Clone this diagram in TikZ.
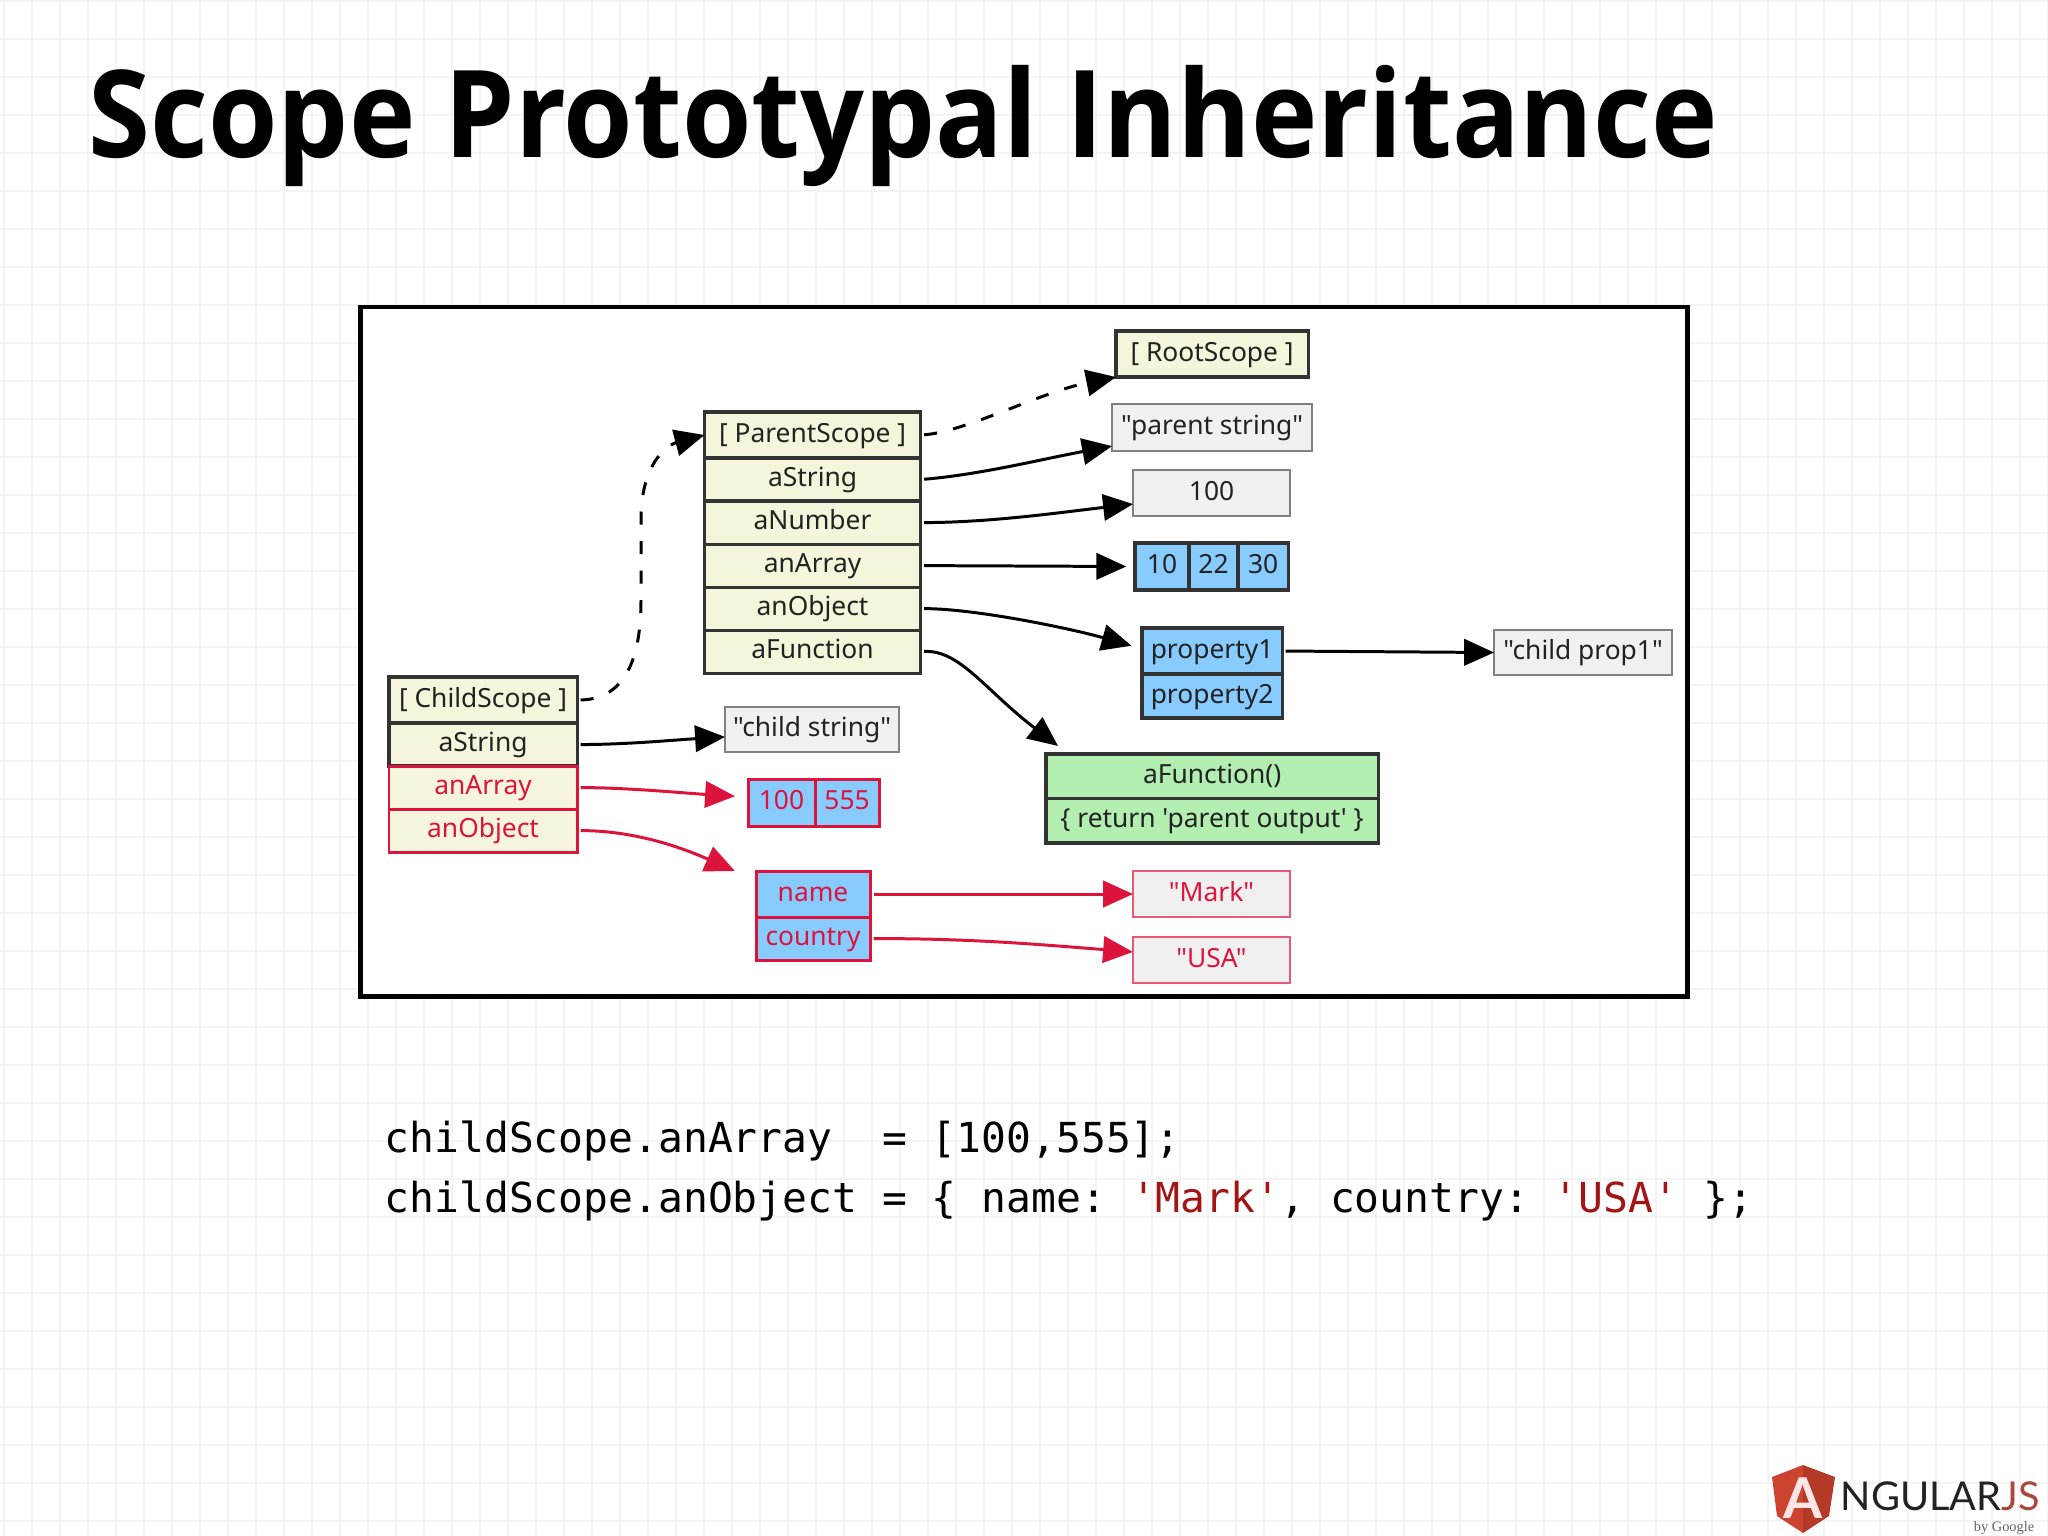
\documentclass[tikz,border=0pt]{standalone}
\usepackage{fontspec}
\usetikzlibrary{arrows.meta,positioning,shapes.geometric}
\newfontfamily\cellfont{Noto Sans}
\newfontfamily\titlefont[FakeStretch=.926]{Open Sans}
\newfontfamily\codefont{DejaVu Sans Mono}
\newfontfamily\logofont{Lato}
\newfontfamily\byfont{Liberation Serif}
\definecolor{ink}{HTML}{222222}
\definecolor{edge}{HTML}{333333}
\definecolor{crim}{HTML}{DC143C}
\definecolor{beige}{HTML}{F5F5DC}
\definecolor{valgrey}{HTML}{F0F0F0}
\definecolor{objblue}{HTML}{87CBFF}
\definecolor{fngreen}{HTML}{B2EEB0}
\definecolor{strred}{HTML}{A31515}
\definecolor{gridc}{HTML}{F4F4F4}
\definecolor{shieldl}{HTML}{CC4430}
\definecolor{shieldr}{HTML}{B23A26}
\definecolor{logojs}{HTML}{A84A3A}
\tikzset{
  cell/.style={draw=edge, line width=.9pt, outer sep=0pt, inner sep=0pt, text=ink,
               font=\cellfont\fontsize{7.5}{9}\selectfont, text height=7pt, text depth=3pt},
  scp/.style={cell, fill=beige, minimum width=#1, minimum height=.43cm},
  arr/.style={cell, fill=objblue, minimum width=#1, minimum height=.46cm},
  fnc/.style={cell, fill=fngreen, minimum width=3.32cm, minimum height=.445cm},
  val/.style={cell, draw=black!50, line width=.6pt, fill=valgrey, minimum width=#1, minimum height=.46cm},
  hot/.style={draw=crim, text=crim, line width=.85pt},
  ch/.style={-{Triangle[length=8.5pt,width=7.5pt]}, line width=.85pt, draw=black, shorten <=1pt},
  chhot/.style={ch, draw=crim},
  dsh/.style={ch, dash pattern=on 3.7pt off 4.7pt},
  code/.style={anchor=base west, inner sep=0pt, font=\codefont\fontsize{11.75}{14}\selectfont},
}
\begin{document}
\begin{tikzpicture}[x=.01cm, y=-.01cm]
  \useasboundingbox (0,0) rectangle (2048,1536);
  \fill[white] (0,0) rectangle (2048,1536);
  \foreach \gx in {4,32,...,2048} \draw[gridc, line width=.6pt] (\gx,0) -- (\gx,1536);
  \foreach \gy in {1,39,...,1536} \draw[gridc, line width=.6pt] (0,\gy) -- (2048,\gy);

  \node[anchor=base west, inner sep=0pt, font=\titlefont\bfseries\fontsize{34.5}{40}\selectfont] (title) at (88,157)
    {Scope Prototypal Inheritance};

  \node[draw=black, fill=white, line width=1.4pt, anchor=north west, outer sep=0pt,
        minimum width=13.26cm, minimum height=6.89cm] (frame) at (360.5,307) {};

  \node[scp=2.16cm, anchor=north west, minimum height=.46cm] (pscope) at (704.5,412) {[ ParentScope ]};
  \node[scp=2.16cm, below=0pt of pscope] (pstr) {aString};
  \node[scp=2.16cm, below=0pt of pstr] (pnum) {aNumber};
  \node[scp=2.16cm, below=0pt of pnum] (parr) {anArray};
  \node[scp=2.16cm, below=0pt of parr] (pobj) {anObject};
  \node[scp=2.16cm, below=0pt of pobj] (pfn) {aFunction};

  \node[scp=1.88cm, anchor=north west, minimum height=.46cm] (cscope) at (389,677) {[ ChildScope ]};
  \node[scp=1.88cm, below=0pt of cscope] (cstr) {aString};
  \node[scp=1.88cm, hot, below=0pt of cstr] (carr) {anArray};
  \node[scp=1.88cm, hot, below=0pt of carr] (cobj) {anObject};

  \node[scp=1.92cm, anchor=north west, minimum height=.46cm] (rscope) at (1116,331) {[ RootScope ]};
  \node[val=2cm, anchor=north west, minimum height=.47cm] (vpstr) at (1112,404) {"parent string"};
  \node[val=1.57cm, anchor=north west] (vnum) at (1133,470) {100};

  \node[arr=.54cm, anchor=north west, minimum height=.47cm] (a10) at (1135,543) {10};
  \node[arr=.49cm, minimum height=.47cm, right=0pt of a10] (a22) {22};
  \node[arr=.5cm, minimum height=.47cm, right=0pt of a22] (a30) {30};

  \node[arr=1.4cm, anchor=north west] (prop1) at (1142,628) {property1};
  \node[arr=1.4cm, minimum height=.44cm, below=0pt of prop1] (prop2) {property2};
  \node[val=1.78cm, anchor=north west, minimum height=.45cm] (vprop) at (1494,630) {"child prop1"};

  \node[fnc, anchor=north west] (fnhead) at (1046,754) {aFunction()};
  \node[fnc, below=0pt of fnhead] (fnbody) {\{ return 'parent output' \}};

  \node[val=1.74cm, anchor=north west, minimum height=.45cm] (vcstr) at (725,707) {"child string"};

  \node[arr=.67cm, hot, anchor=north west, minimum height=.47cm] (a100) at (748,779) {100};
  \node[arr=.64cm, hot, minimum height=.47cm, right=0pt of a100] (a555) {555};

  \node[arr=1.14cm, hot, anchor=north west] (oname) at (756,871) {name};
  \node[arr=1.14cm, hot, minimum height=.43cm, below=0pt of oname] (ocountry) {country};

  \node[val=1.57cm, draw=crim!70, text=crim, anchor=north west] (vmark) at (1133,871) {"Mark"};
  \node[val=1.57cm, draw=crim!70, text=crim, anchor=north west] (vusa) at (1133,937) {"USA"};

  \coordinate (dipa) at (641,600);
  \coordinate (dipb) at (641,520);
  \draw[dsh] (cscope.east) .. controls +(50,-1) and +(0,55) .. (dipa) -- (dipb)
    .. controls +(0,-65) and +(-30,8) .. (pscope.west);
  \draw[dsh] (pscope.east) .. controls +(44,-3) and +(-75,15) .. (rscope.south west);
  \draw[ch] (pstr.east) .. controls +(60,-5) and +(-70,13) .. ([yshift=1.4pt]vpstr.south west);
  \draw[ch] (pnum.east) .. controls +(70,0) and +(-70,8) .. ([yshift=3.4pt]vnum.south west);
  \draw[ch, shorten >=2.5pt] (parr.east) -- (a10.west);
  \draw[ch] (pobj.east) .. controls +(55,0) and +(-60,-17) .. ([xshift=-3pt,yshift=1.5pt]prop1.west);
  \draw[ch] (pfn.east) .. controls +(39,-2) and +(-73,-56) .. ([xshift=3.4pt,yshift=2.3pt]fnhead.north west);
  \draw[ch] (prop1.east) -- (vprop.west);
  \draw[ch] (cstr.east) .. controls +(50,0) and +(-50,3) .. ([yshift=-2.1pt]vcstr.west);
  \draw[chhot] (carr.east) .. controls +(50,0) and +(-50,-3) .. ([xshift=-3.7pt,yshift=1.8pt]a100.west);
  \draw[chhot] (cobj.east) .. controls +(60,0) and +(-50,-22) .. ([xshift=-6pt]oname.north west);
  \draw[chhot] (oname.east) -- (vmark.west);
  \draw[chhot] (ocountry.east) .. controls +(100,0) and +(-100,-8) .. ([yshift=2.3pt]vusa.west);

  \node[code] (line1) at (384,1152) {childScope.anArray~~=~[100,555];};
  \node[code] (line2) at (384,1212) {childScope.anObject~=~\{~name:~\textcolor{strred}{'Mark'},~country:~\textcolor{strred}{'USA'}~\};};

  \fill[shieldl] (1803,1465) -- (1772,1477) -- (1777,1516) -- (1803,1533) -- cycle;
  \fill[shieldr] (1803,1465) -- (1835,1477) -- (1829,1516) -- (1803,1533) -- cycle;
  \node[text=white!90!red, inner sep=0pt, font=\logofont\bfseries\fontsize{16}{18}\selectfont] (logoa) at (1803,1498) {A};
  \node[anchor=base west, inner sep=0pt, font=\logofont\fontsize{11.3}{14}\selectfont, text=ink] (logon) at (1840,1510)
    {NGULAR\textcolor{logojs}{JS}};
  \node[anchor=base east, inner sep=0pt, font=\byfont\fontsize{4.1}{5}\selectfont, text=black!60] (logob) at (2035,1531) {by Google};
\end{tikzpicture}
\end{document}
